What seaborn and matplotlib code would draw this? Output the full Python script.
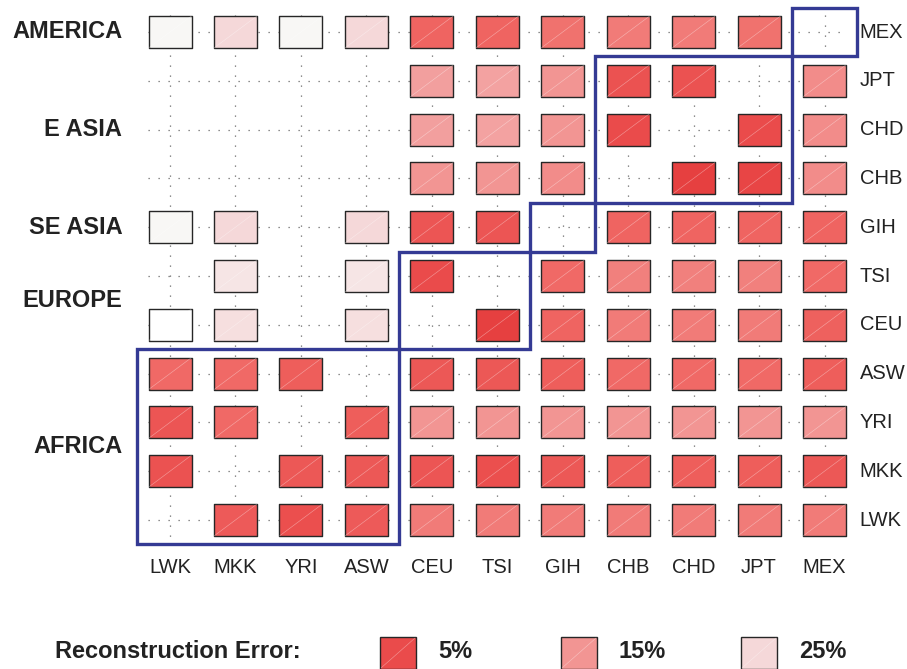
import numpy as np
import pandas as pd
import matplotlib
matplotlib.use("Agg")
import matplotlib.pyplot as plt
from matplotlib.path import Path
from matplotlib.patches import Rectangle
from matplotlib.colors import LinearSegmentedColormap, Normalize
import seaborn as sns

sns.set_style("white")
plt.rcParams["font.family"] = ["Liberation Sans", "DejaVu Sans"]

# Populations along the columns (rows run in the reverse order)
populations = ["LWK", "MKK", "YRI", "ASW", "CEU", "TSI", "GIH", "CHB", "CHD", "JPT", "MEX"]

# Continental groups as (label, first population, last population)
group_names = ["AFRICA", "EUROPE", "SE ASIA", "E ASIA", "AMERICA"]
group_first = ["LWK", "CEU", "GIH", "CHB", "MEX"]
group_last = ["ASW", "TSI", "GIH", "JPT", "MEX"]

nan = np.nan
# Reconstruction error (%) per row, columns ordered as `populations`
err_MEX = [30, 25, 30, 25, 9, 9, 11, 12, 12, 11, nan]
err_JPT = [nan, nan, nan, nan, 16.5, 17, 15, 6, 6, nan, 14]
err_CHD = [nan, nan, nan, nan, 16.5, 17, 15, 5, nan, 5, 14]
err_CHB = [nan, nan, nan, nan, 15, 15, 14, nan, 4, 4.5, 14]
err_GIH = [30, 25, nan, 25, 6.5, 6.5, nan, 9, 9, 9, 9]
err_TSI = [nan, 27, nan, 27, 5, nan, 10, 12.5, 12.5, 12.5, 10]
err_CEU = [33, 26, nan, 26, nan, 4, 9, 12, 12, 12, 8.5]
err_ASW = [10, 10, 8, nan, 7, 7, 8, 10, 10, 10, 8]
err_YRI = [6.5, 10, nan, 8, 15, 15, 15, 15, 15, 15, 15]
err_MKK = [6, nan, 7, 7, 6.5, 5.5, 7, 8, 8, 8, 7]
err_LWK = [nan, 7.5, 5.5, 7.5, 12, 12, 12, 12, 12, 12, 12]

row_pops = ["MEX", "JPT", "CHD", "CHB", "GIH", "TSI", "CEU", "ASW", "YRI", "MKK", "LWK"]
row_values = [err_MEX, err_JPT, err_CHD, err_CHB, err_GIH, err_TSI, err_CEU,
              err_ASW, err_YRI, err_MKK, err_LWK]

legend_levels = [5, 15, 25]

# Long table: one record per drawn cell
records = []
for r, vals in enumerate(row_values):
    for c, v in enumerate(vals):
        if not np.isnan(v):
            records.append({"col": c, "row": r, "err": v})
df = pd.DataFrame(records)

# Red (low error) to white (high error)
cmap = LinearSegmentedColormap.from_list(
    "recon",
    [(0.0, "#e64040"), (1 / 29, "#ea4c4c"), (6 / 29, "#f06a66"),
     (11 / 29, "#f29593"), (21 / 29, "#f5d8d9"), (26 / 29, "#f8f7f5"),
     (1.0, "#ffffff")])
norm = Normalize(vmin=4, vmax=33)

W, H, DPI = 907, 669, 100
fig = plt.figure(figsize=(W / DPI, H / DPI), dpi=DPI)

col_pitch, row_pitch = 65.45, 48.8
left_px, top_px = 170 - col_pitch / 2, 32 - row_pitch / 2
ax_w, ax_h = 11 * col_pitch, 11 * row_pitch
ax = fig.add_axes([left_px / W, 1 - (top_px + ax_h) / H, ax_w / W, ax_h / H])
ax.set_xlim(-0.5, 10.5)
ax.set_ylim(10.5, -0.5)
ax.axis("off")

n = len(populations)
# Dotted guide lines through every row and column
ax.hlines(range(n), -0.34, n - 1 + 0.26, colors="#6a6a6a",
          linestyles=(0, (1, 7)), linewidth=0.9, zorder=1)
ax.vlines(range(n), -0.34, n - 1 + 0.35, colors="#6a6a6a",
          linestyles=(0, (1, 7)), linewidth=0.9, zorder=1)

# Rectangular cell marker (width : height = 43 : 32)
aspect = 32 / 43
box = Path([(-1, -aspect), (1, -aspect), (1, aspect), (-1, aspect), (-1, -aspect)],
           [Path.MOVETO, Path.LINETO, Path.LINETO, Path.LINETO, Path.CLOSEPOLY])
diag = Path([(-1, -aspect), (1, aspect)], [Path.MOVETO, Path.LINETO])
cell_pt = 43 * 72 / DPI

sns.scatterplot(data=df, x="col", y="row", hue="err", palette=cmap, hue_norm=norm,
                marker=box, s=cell_pt ** 2, edgecolor="#262626", linewidth=1.0,
                legend=False, ax=ax, zorder=3)
ax.scatter(df["col"], df["row"], marker=diag, s=cell_pt ** 2, facecolors="none",
           edgecolors="white", linewidths=0.45, alpha=0.4, zorder=4)
ax.set_xlabel("")
ax.set_ylabel("")

# Group outlines
for name, a, b in zip(group_names, group_first, group_last):
    c0, c1 = populations.index(a), populations.index(b)
    r0, r1 = n - 1 - c1, n - 1 - c0
    ax.add_patch(Rectangle((c0 - 0.5, r0 - 0.5), c1 - c0 + 1, r1 - r0 + 1,
                           fill=False, edgecolor="#343a94", linewidth=2.4,
                           clip_on=False, zorder=6))
    ax.text(-0.73, (r0 + r1) / 2, name, ha="right", va="center",
            fontsize=17, fontweight="bold", color="#222222")

# Population labels
for r, p in enumerate(row_pops):
    ax.text(10.54, r, p, ha="left", va="center", fontsize=14.5, color="#222222")
for c, p in enumerate(populations):
    ax.text(c, 10.98, p, ha="center", va="center", fontsize=14.5, color="#222222")

# Colour key along the bottom
lax = fig.add_axes([0, 0, 1, 1], zorder=-1)
lax.set_xlim(0, W)
lax.set_ylim(H, 0)
lax.axis("off")
lax.text(55, 651, "Reconstruction Error:", ha="left", va="center",
         fontsize=17, fontweight="bold", color="#222222")
key_x = [380, 561, 741]
for x0, lvl in zip(key_x, legend_levels):
    lax.add_patch(Rectangle((x0, 637), 36, 32, facecolor=cmap(norm(lvl)),
                            edgecolor="#262626", linewidth=1.0))
    lax.plot([x0 + 1, x0 + 35], [668, 638], color="white", lw=0.45, alpha=0.4)
    lax.text(x0 + 58, 651, f"{lvl}%", ha="left", va="center",
             fontsize=17, fontweight="bold", color="#222222")

fig.savefig("out.png", dpi=DPI)
